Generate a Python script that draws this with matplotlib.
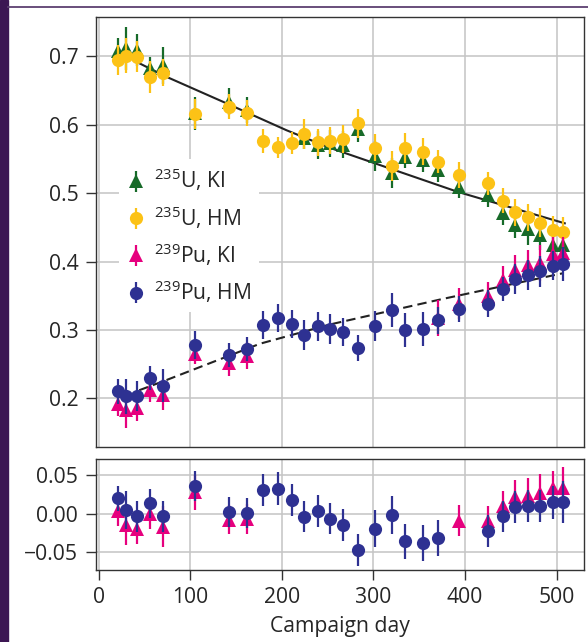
import numpy as np
import matplotlib
matplotlib.use("Agg")
import matplotlib.pyplot as plt
from matplotlib.lines import Line2D
from matplotlib.patches import Rectangle
from matplotlib.ticker import FuncFormatter

plt.rcParams['font.family'] = ['Open Sans', 'DejaVu Sans']
plt.rcParams['mathtext.fontset'] = 'custom'
plt.rcParams['mathtext.rm'] = 'Open Sans'
plt.rcParams['mathtext.it'] = 'Open Sans:italic'
plt.rcParams['mathtext.bf'] = 'Open Sans:bold'

nan = np.nan

# ---------------- data ----------------
days = [21, 30, 42, 56, 70, 105, 142, 162, 179, 196, 211, 224, 239, 253, 267,
        283, 302, 320, 334, 354, 370, 393, 425, 441, 455, 469, 482, 496, 507]

u_hm = [0.695, 0.701, 0.6995, 0.670, 0.676, 0.6155, 0.6263, 0.6175, 0.5766, 0.567,
        0.5728, 0.586, 0.5743, 0.5766, 0.5791, 0.602, 0.5664, 0.5396, 0.5655, 0.5605,
        0.546, 0.5265, 0.5143, 0.4889, 0.472, 0.4646, 0.4567, 0.446, 0.4436]
u_hm_err = [0.022, 0.026, 0.023, 0.023, 0.020, 0.022, 0.0185, 0.019, 0.0175, 0.015,
            0.016, 0.022, 0.020, 0.020, 0.020, 0.021, 0.020, 0.022, 0.022, 0.020,
            0.017, 0.0195, 0.0166, 0.018, 0.0195, 0.020, 0.021, 0.020, 0.022]

u_ki = [0.708, 0.7117, 0.709, 0.6825, 0.6873, 0.617, 0.6336, 0.6215, nan, nan,
        nan, 0.580, 0.5703, 0.5728, 0.571, 0.5933, 0.5547, 0.529, 0.5532, 0.5484,
        0.5338, 0.5085, 0.4972, 0.4705, 0.4534, 0.4471, 0.4387, 0.4241, 0.4241]
u_ki_err = [0.019, 0.031, 0.023, 0.017, 0.027, 0.024, 0.0195, 0.0185, nan, nan,
            nan, 0.016, 0.020, 0.020, 0.020, 0.018, 0.022, 0.022, 0.016, 0.018,
            0.018, 0.016, 0.017, 0.017, 0.0195, 0.023, 0.022, 0.022, 0.022]

pu_hm = [0.2102, 0.203, 0.203, 0.2293, 0.2186, 0.2775, 0.2634, 0.2722, 0.3068, 0.3175,
         0.3088, 0.2931, 0.3053, 0.3015, 0.2965, 0.2737, 0.3053, 0.3297, 0.3004, 0.3019,
         0.314, 0.3307, 0.3384, 0.360, 0.375, 0.3808, 0.3857, 0.394, 0.3965]
pu_hm_err = [0.018, 0.025, 0.022, 0.0175, 0.024, 0.0205, 0.0175, 0.0175, 0.0205, 0.0205,
             0.020, 0.022, 0.021, 0.022, 0.0205, 0.019, 0.022, 0.025, 0.025, 0.025,
             0.0195, 0.0195, 0.0195, 0.018, 0.022, 0.022, 0.023, 0.0215, 0.025]

pu_ki = [0.1922, 0.1825, 0.186, 0.2127, 0.2054, 0.2654, 0.2518, 0.2624, nan, nan,
         nan, nan, nan, nan, nan, nan, nan, nan, nan, nan,
         0.318, 0.3384, 0.3501, 0.3735, 0.3871, 0.3955, 0.398, 0.4115, 0.4126]
pu_ki_err = [0.0185, 0.026, 0.0195, 0.0185, 0.023, 0.015, 0.0195, 0.0195, nan, nan,
             nan, nan, nan, nan, nan, nan, nan, nan, nan, nan,
             0.026, 0.023, 0.0195, 0.0205, 0.023, 0.021, 0.027, 0.024, 0.024]

res_hm = [0.0199, 0.0048, -0.0035, 0.0134, -0.0035, 0.0364, 0.0026, 0.0009, 0.0308, 0.0325,
          0.0182, -0.0039, 0.003, -0.0069, -0.0147, -0.0468, -0.0199, -0.0017, -0.036, -0.0385,
          -0.0316, nan, -0.0221, -0.0035, 0.0082, 0.0095, 0.0095, 0.0147, 0.0147]
res_hm_err = [0.0165, 0.025, 0.020, 0.0186, 0.020, 0.0195, 0.0195, 0.0195, 0.0208, 0.021,
              0.0208, 0.020, 0.0208, 0.020, 0.0208, 0.0208, 0.024, 0.025, 0.023, 0.023,
              0.023, nan, 0.0208, 0.020, 0.0208, 0.0208, 0.0208, 0.0216, 0.027]

res_ki = [0.003, -0.0143, -0.0199, -0.0004, -0.0169, 0.0277, -0.0082, -0.0069, nan, nan,
          nan, nan, nan, nan, nan, nan, nan, nan, nan, nan,
          nan, -0.0091, -0.010, 0.0095, 0.0221, 0.0234, 0.0264, 0.0334, 0.0334]
res_ki_err = [0.0186, 0.027, 0.0195, 0.0195, 0.027, 0.023, 0.019, 0.0195, nan, nan,
              nan, nan, nan, nan, nan, nan, nan, nan, nan, nan,
              nan, 0.020, 0.020, 0.0195, 0.0216, 0.0225, 0.025, 0.0225, 0.0277]

u_fit_days = [44, 74, 140, 205, 252, 392, 509]
u_fit = [0.690, 0.670, 0.631, 0.592, 0.5665, 0.502, 0.456]
pu_fit_days = [44, 74, 176, 252, 374, 507]
pu_fit = [0.212, 0.227, 0.280, 0.308, 0.345, 0.383]

labels = [r'$^{235}$U, KI', r'$^{235}$U, HM', r'$^{239}$Pu, KI', r'$^{239}$Pu, HM']
x_ticks = [0, 100, 200, 300, 400, 500]
y_ticks_main = [0.2, 0.3, 0.4, 0.5, 0.6, 0.7]
y_ticks_res = [-0.05, 0.0, 0.05]
x_label = 'Campaign day'

# ---------------- style ----------------
C_GREEN = '#176a29'
C_YELLOW = '#fcc216'
C_MAGENTA = '#e6007e'
C_NAVY = '#2e3192'
SPINE = '#333333'
GRID = '#c4c4c4'
TXT = '#262626'
FS = 15.2
MS = 9.5
ELW = 1.6

fig = plt.figure(figsize=(5.88, 6.42), dpi=100)
ax = fig.add_axes([0.1628, 0.3037, 0.8304, 0.6703])
axr = fig.add_axes([0.1628, 0.1121, 0.8304, 0.1724])

d = np.array(days, dtype=float)

def eb(a, y, err, color, marker, label=None, z=3):
    return a.errorbar(d, y, yerr=err, fmt=marker, color=color, ecolor=color,
                      markersize=MS, elinewidth=ELW, capsize=0, mew=0,
                      label=label, zorder=z)

ax.plot(u_fit_days, u_fit, color='#222222', lw=1.5, zorder=2)
ax.plot(pu_fit_days, pu_fit, color='#222222', lw=1.5, ls=(0, (4.5, 2.5)), zorder=2)

h1 = eb(ax, u_ki, u_ki_err, C_GREEN, '^', labels[0], 3)
h2 = eb(ax, u_hm, u_hm_err, C_YELLOW, 'o', labels[1], 4)
h3 = eb(ax, pu_ki, pu_ki_err, C_MAGENTA, '^', labels[2], 5)
h4 = eb(ax, pu_hm, pu_hm_err, C_NAVY, 'o', labels[3], 6)

eb(axr, res_ki, res_ki_err, C_MAGENTA, '^', None, 3)
eb(axr, res_hm, res_hm_err, C_NAVY, 'o', None, 4)

for a in (ax, axr):
    a.set_xlim(-3.5, 530)
    a.set_xticks(x_ticks)
    a.grid(True, color=GRID, lw=1.1, zorder=0)
    a.set_axisbelow(True)
    for s in a.spines.values():
        s.set_color(SPINE)
        s.set_linewidth(1.0)
    a.tick_params(axis='both', direction='out', length=7, width=1.0,
                  color=SPINE, labelcolor=TXT, labelsize=FS, pad=5)
    a.tick_params(axis='y', pad=5.5)

def fmt(decimals):
    return FuncFormatter(lambda v, p: f'{v:.{decimals}f}'.replace('-', '\u2212'))

ax.set_ylim(0.129, 0.758)
ax.set_yticks(y_ticks_main)
ax.yaxis.set_major_formatter(fmt(1))
ax.tick_params(axis='x', bottom=False, labelbottom=False)

axr.set_ylim(-0.0734, 0.0704)
axr.set_yticks(y_ticks_res)
axr.yaxis.set_major_formatter(fmt(2))
axr.set_xlabel(x_label, fontsize=FS, color=TXT, labelpad=6)

leg = ax.legend(handles=[h1, h2, h3, h4], loc='lower left',
                bbox_to_anchor=(0.048, 0.313), borderaxespad=0,
                fontsize=FS, frameon=True, fancybox=False, framealpha=1,
                edgecolor='none', facecolor='white', handlelength=0.9,
                handletextpad=0.4, labelspacing=0.5, borderpad=0.35)
leg.set_zorder(7)
for t in leg.get_texts():
    t.set_color(TXT)

# page frame decoration
fig.add_artist(Rectangle((0, 0), 8 / 588, 1, transform=fig.transFigure,
                         color='#3c1653', zorder=0))
fig.add_artist(Line2D([8 / 588, 1], [1 - 6.5 / 642] * 2, transform=fig.transFigure,
                      color='#5d4071', lw=1.3))

fig.savefig('out.png', dpi=100)
